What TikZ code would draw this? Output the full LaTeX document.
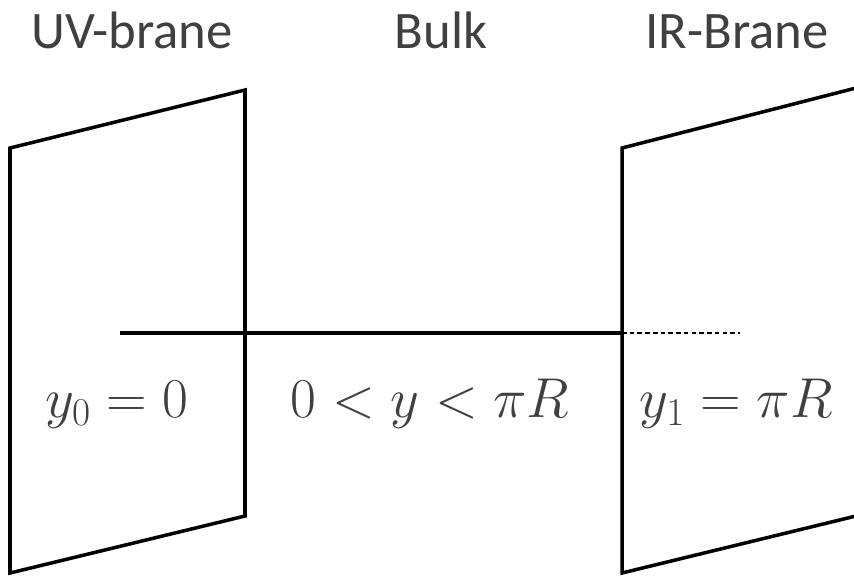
\RequirePackage{fix-cm}
\documentclass[tikz,border=0pt]{standalone}
\usepackage{fontspec}
\setmainfont{Carlito}
\usepackage{tikz}
\usetikzlibrary{positioning}

\definecolor{labelgray}{HTML}{404040}

\begin{document}
\begin{tikzpicture}[x=0.02cm, y=-0.02cm, thick,
    brane/.style={draw, line width=2pt, line join=miter},
    title/.style={font=\fontsize{30}{35}\selectfont, text=labelgray, anchor=base, inner sep=0pt},
    coord/.style={font=\fontsize{32}{37}\selectfont, text=labelgray, anchor=base, inner sep=0pt}]
    \useasboundingbox (0,0) rectangle (854,575);

    % brane corners
    \coordinate (uvA) at (10,148);
    \coordinate (uvB) at (245,90);
    \coordinate (uvC) at (245,516);
    \coordinate (uvD) at (10,573);
    \coordinate (irA) at (622,148);
    \coordinate (irB) at (856,88);
    \coordinate (irC) at (856,516);
    \coordinate (irD) at (622,573);

    \draw[brane] (uvA) -- (uvB) -- (uvC) -- (uvD) -- cycle;
    \draw[brane] (irB) -- (irA) -- (irD) -- (irC);

    % extra dimension
    \coordinate (start) at (120,333);
    \coordinate (cross) at (622,333);
    \coordinate (tail) at (740,333);
    \draw[line width=1.8pt] (start) -- (cross);
    \draw[line width=0.7pt, dash pattern=on 2.6pt off 1.8pt] (cross) -- (tail);

    % titles
    \node[title] (uv) at (132,48) {UV-brane};
    \node[title] (bulk) at (441,48) {Bulk};
    \node[title] (ir) at (737,48) {IR-Brane};

    % positions
    \node[coord] (y0) at (117,417) {$y_0 = 0$};
    \node[coord] (yb) at (430,417) {$0 < y < \pi R$};
    \node[coord] (y1) at (736,417) {$y_1 = \pi R$};
\end{tikzpicture}
\end{document}
